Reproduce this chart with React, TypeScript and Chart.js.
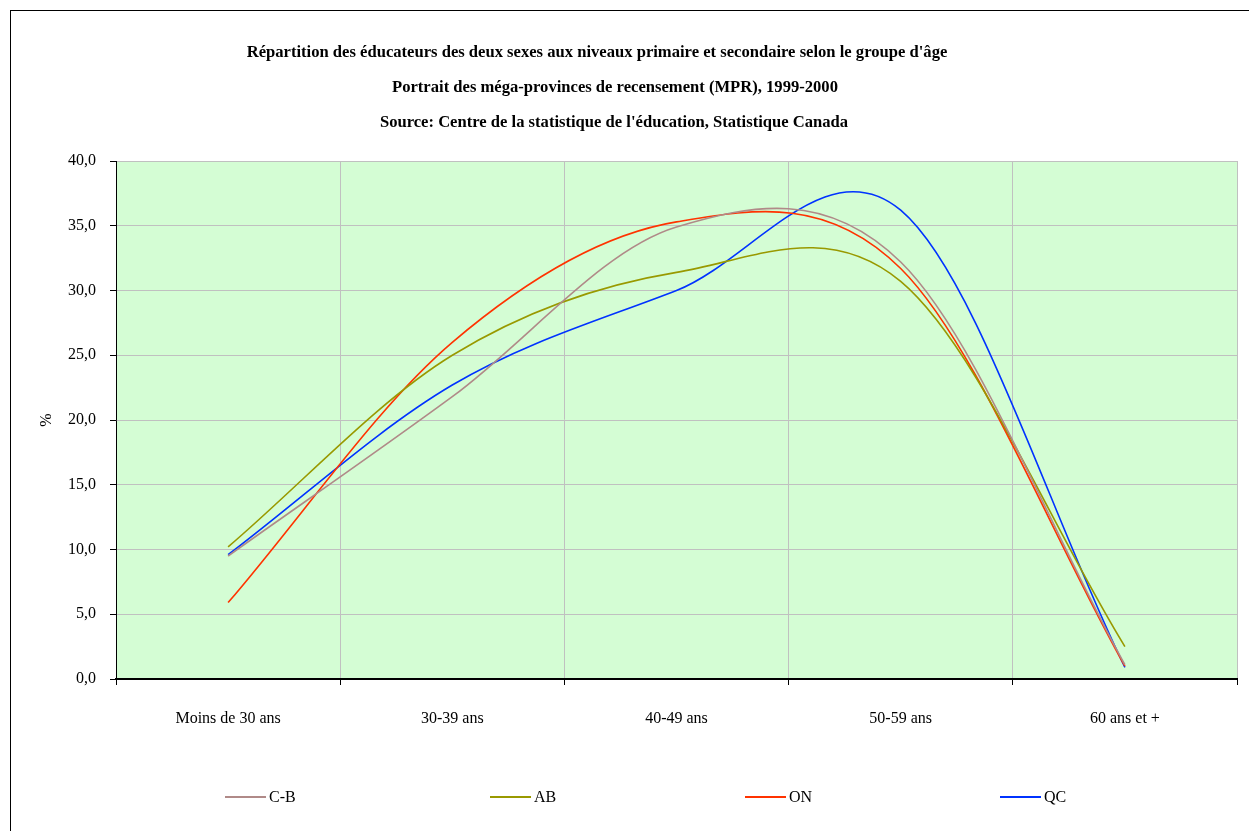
import React, { useEffect, useRef } from "react";
import { Chart, registerables } from "chart.js";

Chart.register(...registerables);

const categories = ["Moins de 30 ans", "30-39 ans", "40-49 ans", "50-59 ans", "60 ans et +"];
const seriesNames = ["C-B", "AB", "ON", "QC"];
const cbValues = [9.5, 21.8, 34.9, 32.2, 1.1];
const abValues = [10.2, 25.0, 31.4, 30.7, 2.5];
const onValues = [5.9, 26.0, 35.3, 31.7, 1.0];
const qcValues = [9.6, 22.7, 30.0, 36.2, 0.9];
const seriesColors = ["#b08a88", "#999900", "#ff3300", "#0033ff"];
const yTicks = [0, 5, 10, 15, 20, 25, 30, 35, 40];
const titleLines = [
  "Répartition des éducateurs des deux sexes aux niveaux primaire et secondaire selon le groupe d'âge",
  "Portrait des méga-provinces de recensement (MPR), 1999-2000",
  "Source: Centre de la statistique de l'éducation, Statistique Canada",
];

const FONT = "'Liberation Serif', 'Times New Roman', serif";

const plotBg = {
  id: "plotBg",
  beforeDraw(chart: any) {
    const { ctx, chartArea } = chart;
    ctx.save();
    ctx.fillStyle = "#d4fdd4";
    ctx.fillRect(chartArea.left, chartArea.top, chartArea.right - chartArea.left, chartArea.bottom - chartArea.top);
    ctx.restore();
  },
};

// Excel-like smoothing: Catmull-Rom tangents computed from the scale-positioned points
const catmullRom = {
  id: "catmullRom",
  beforeDatasetDraw(chart: any, args: any) {
    const meta = args.meta;
    const line = meta.dataset;
    if (!line) return;
    line.updateControlPoints(chart.chartArea, "x");
    const pts = meta.data;
    const n = pts.length;
    for (let i = 0; i < n; i++) {
      const p = pts[i];
      const prev = pts[Math.max(0, i - 1)];
      const next = pts[Math.min(n - 1, i + 1)];
      let mx: number, my: number;
      if (i === 0 || i === n - 1) {
        mx = next.x - prev.x;
        my = next.y - prev.y;
      } else {
        mx = (next.x - prev.x) / 2;
        my = (next.y - prev.y) / 2;
      }
      p.cp1x = p.x - mx / 3;
      p.cp1y = p.y - my / 3;
      p.cp2x = p.x + mx / 3;
      p.cp2y = p.y + my / 3;
    }
    line._path = undefined;
  },
};

export default function App() {
  const ref = useRef<HTMLCanvasElement | null>(null);
  useEffect(() => {
    if (!ref.current) return;
    const all = [cbValues, abValues, onValues, qcValues];
    const chart = new Chart(ref.current, {
      type: "line",
      data: {
        labels: categories,
        datasets: all.map((vals, i) => ({
          label: seriesNames[i],
          data: vals,
          borderColor: seriesColors[i],
          backgroundColor: seriesColors[i],
          borderWidth: 1.6,
          pointRadius: 0,
          tension: 0.4,
          fill: false,
        })),
      },
      options: {
        animation: false,
        responsive: false,
        maintainAspectRatio: false,
        layout: { padding: { left: 37, top: 161, right: 12, bottom: 92 } },
        plugins: {
          legend: { display: false },
          tooltip: { enabled: false },
          title: { display: false },
        },
        scales: {
          x: {
            type: "category",
            offset: true,
            grid: {
              offset: true,
              color: "#c0c0c0",
              lineWidth: 1,
              tickColor: "#000",
              tickLength: 6,
              drawTicks: true,
            },
            border: { color: "#000", width: 2 },
            ticks: {
              color: "#000",
              padding: 24,
              font: { family: FONT, size: 16 },
              maxRotation: 0,
            },
            afterFit(scale: any) {
              scale.height = 60;
            },
          },
          y: {
            min: 0,
            max: 40,
            afterBuildTicks(scale: any) {
              scale.ticks = yTicks.map((v) => ({ value: v }));
            },
            grid: {
              color: "#c0c0c0",
              lineWidth: 1,
              tickColor: "#000",
              tickLength: 6,
            },
            border: { color: "#000", width: 1 },
            ticks: {
              color: "#000",
              padding: 14,
              font: { family: FONT, size: 16 },
              callback: (v: any) => Number(v).toFixed(1).replace(".", ","),
            },
            title: {
              display: true,
              text: "%",
              color: "#000",
              font: { family: FONT, size: 16 },
              padding: { top: 0, bottom: 0 },
            },
            afterFit(scale: any) {
              scale.width = 79;
            },
          },
        },
      },
      plugins: [plotBg, catmullRom],
    });
    return () => chart.destroy();
  }, []);

  const legendX = [225, 490, 745, 1000];
  const titleCenters = [597, 615, 614];

  return (
    <div style={{ position: "absolute", left: 0, top: 0, width: 1249, height: 831, background: "#fff", overflow: "hidden" }}>
      <div style={{ position: "absolute", left: 10, top: 10, width: 1300, height: 900, borderLeft: "1px solid #000", borderTop: "1px solid #000" }} />
      <canvas ref={ref} width={1249} height={831} style={{ position: "absolute", left: 0, top: 0, width: 1249, height: 831 }} />
      {titleLines.map((t, i) => (
        <div
          key={i}
          style={{
            position: "absolute",
            left: titleCenters[i] - 450,
            width: 900,
            top: 42 + i * 35,
            textAlign: "center",
            fontFamily: FONT,
            fontWeight: "bold",
            fontSize: 16.6,
            lineHeight: "20px",
            color: "#000",
            whiteSpace: "nowrap",
          }}
        >
          {t}
        </div>
      ))}
      {seriesNames.map((n, i) => (
        <div key={n} style={{ position: "absolute", left: legendX[i], top: 786, height: 22, display: "flex", alignItems: "center", fontFamily: FONT, fontSize: 16, color: "#000" }}>
          <span style={{ display: "inline-block", width: 41, height: 0, borderTop: `2px solid ${seriesColors[i]}`, marginRight: 3 }} />
          <span>{n}</span>
        </div>
      ))}
    </div>
  );
}
